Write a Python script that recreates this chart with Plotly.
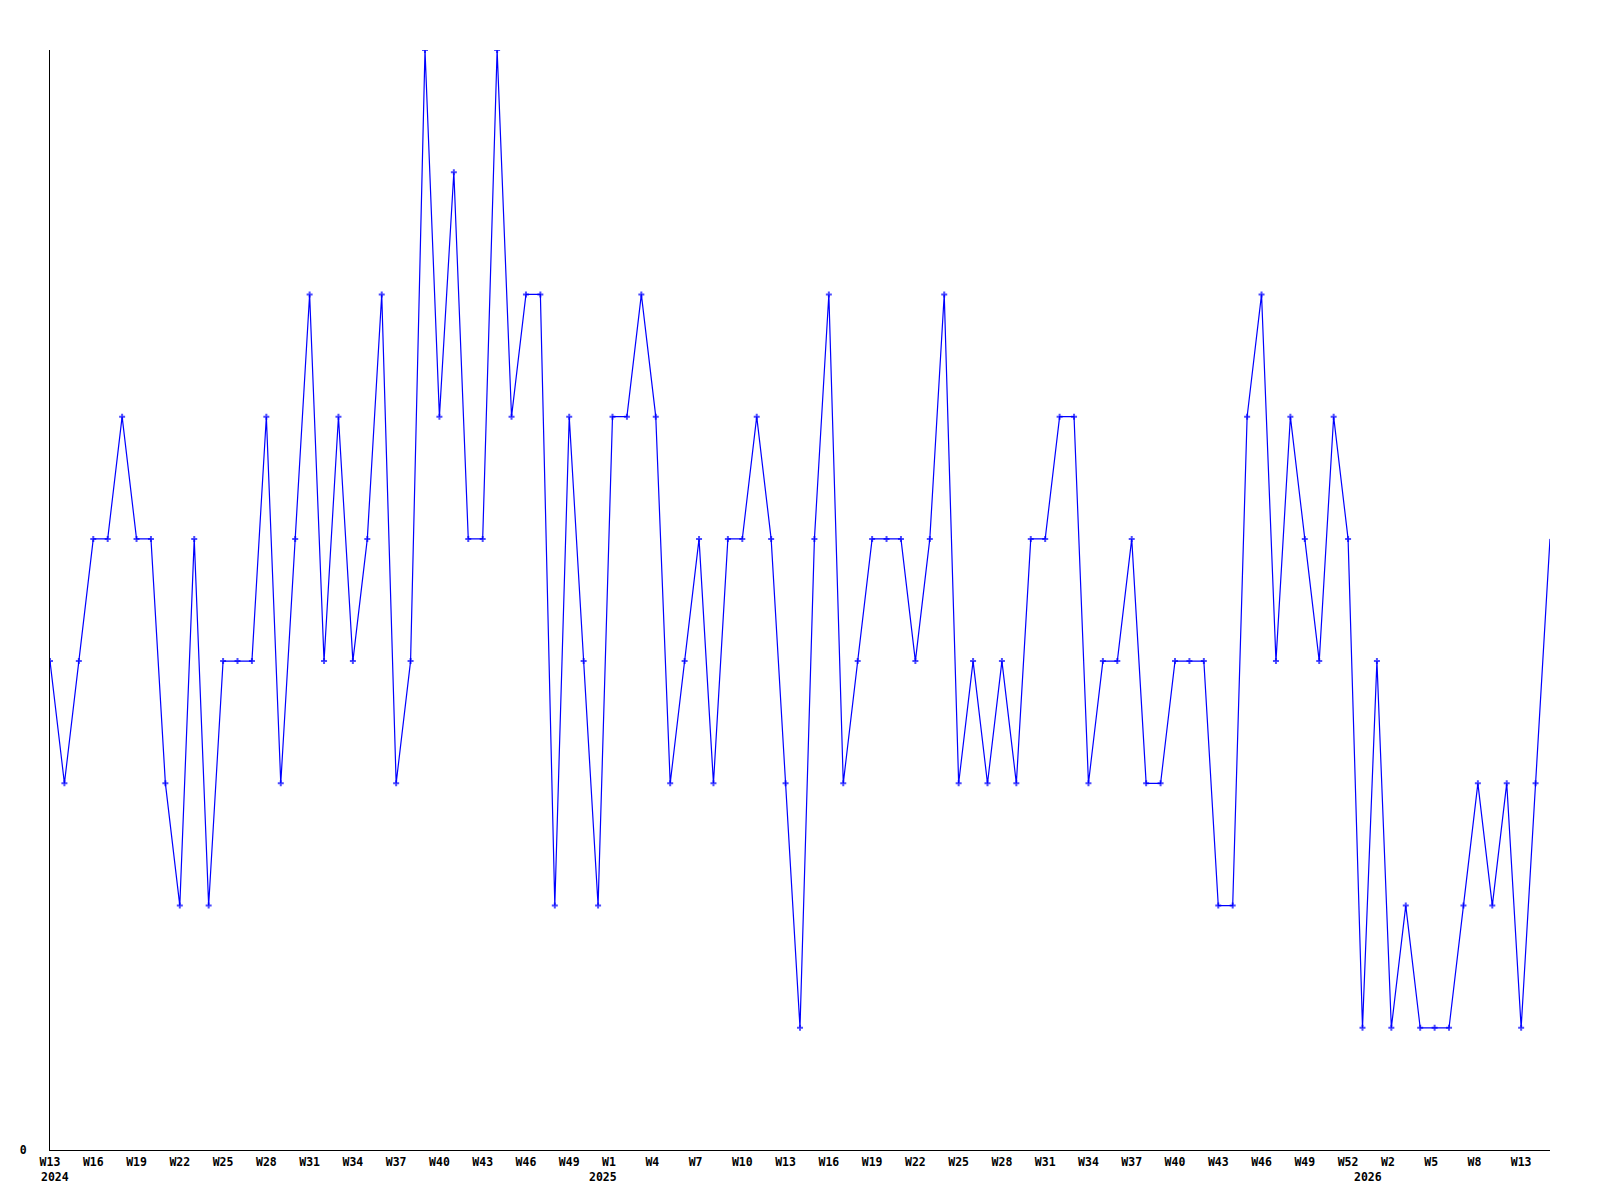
import plotly.graph_objects as go

# Weekly values, W13 2024 .. current week 2026 (one value per week)
values = [4, 3, 4, 5, 5, 6, 5, 5, 3, 2,
          5, 2, 4, 4, 4, 6, 3, 5, 7, 4,
          6, 4, 5, 7, 3, 4, 9, 6, 8, 5,
          5, 9, 6, 7, 7, 2, 6, 4, 2, 6,
          6, 7, 6, 3, 4, 5, 3, 5, 5, 6,
          5, 3, 1, 5, 7, 3, 4, 5, 5, 5,
          4, 5, 7, 3, 4, 3, 4, 3, 5, 5,
          6, 6, 3, 4, 4, 5, 3, 3, 4, 4,
          4, 2, 2, 6, 7, 4, 6, 5, 4, 6,
          5, 1, 4, 1, 2, 1, 1, 1, 2, 3,
          2, 3, 1, 3, 5]
week_index = list(range(len(values)))

# x tick labels (every third week) and their week index
tick_weeks = [0, 3, 6, 9, 12, 15, 18, 21, 24, 27, 30, 33, 36,
              39, 42, 45, 48, 51, 54, 57, 60, 63, 66, 69, 72, 75, 78, 81, 84, 87, 90,
              93, 96, 99, 102]
tick_labels = ["W13", "W16", "W19", "W22", "W25", "W28", "W31", "W34", "W37", "W40", "W43", "W46", "W49",
               "W1", "W4", "W7", "W10", "W13", "W16", "W19", "W22", "W25", "W28", "W31", "W34", "W37",
               "W40", "W43", "W46", "W49", "W52",
               "W2", "W5", "W8", "W13"]
year_labels = ["2024", "2025", "2026"]
year_weeks = [0, 38, 91]

y_ticks = [0]
y_tick_labels = ["0"]

# left-align the short labels like the original (monospace, padded to 3 chars)
tick_text = [t + "\u00a0" * (3 - len(t)) for t in tick_labels]

font = dict(family="DejaVu Sans Mono", size=11.5, color="black", weight="bold")

# the last (current, incomplete) week is drawn without a marker
marker_sizes = [5] * (len(values) - 1) + [0]

fig = go.Figure()
fig.add_trace(go.Scatter(
    x=week_index, y=values, mode="lines+markers",
    line=dict(color="#0000ff", width=1.2),
    marker=dict(symbol="cross", size=marker_sizes, color="#0000ff", line=dict(width=0)),
    hoverinfo="x+y", showlegend=False,
))

for yl, yw in zip(year_labels, year_weeks):
    fig.add_annotation(x=yw, y=0, xref="x", yref="paper", text=yl,
                       showarrow=False, xanchor="left", yanchor="top",
                       xshift=-11, yshift=-18, font=font)

# page body has an 8px default margin, so the figure is 8px smaller and margins compensate
fig.update_layout(
    width=1592, height=1192,
    margin=dict(l=42, r=50, t=42, b=50, pad=0),
    paper_bgcolor="white", plot_bgcolor="white",
    font=font,
    xaxis=dict(range=[0, len(values) - 1], showgrid=False, zeroline=False,
               showline=True, linecolor="black", linewidth=1,
               tickmode="array", tickvals=tick_weeks, ticktext=tick_text,
               ticks="outside", ticklen=1, tickcolor="rgba(0,0,0,0)",
               tickangle=0, tickfont=font, fixedrange=True),
    yaxis=dict(range=[0, 9], showgrid=False, zeroline=False,
               showline=True, linecolor="black", linewidth=1,
               tickmode="array", tickvals=y_ticks, ticktext=y_tick_labels,
               ticks="outside", ticklen=20, tickcolor="rgba(0,0,0,0)",
               tickfont=font, fixedrange=True),
)

fig.write_html("out.html")
